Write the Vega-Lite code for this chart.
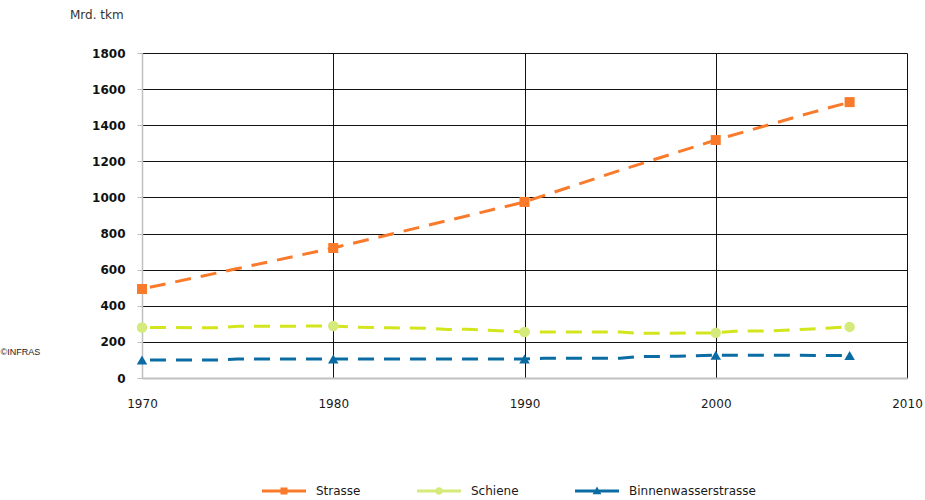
{
  "$schema": "https://vega.github.io/schema/vega-lite/v6.json",
  "width": 765,
  "height": 325,
  "autosize": {"type": "none"},
  "padding": {"left": 142, "top": 53, "right": 18, "bottom": 122},
  "background": "white",
  "config": {"view": {"stroke": null}},
  "title": {"text": "Mrd. tkm", "anchor": "start", "frame": "group", "dx": -72, "offset": 25, "font": "DejaVu Sans", "fontSize": 12, "fontWeight": "normal", "color": "#333333"},
  "data": {"values": [
    {"s": "Strasse", "year": 1970, "v": 493, "m": true},
    {"s": "Strasse", "year": 1975, "v": 606, "m": false},
    {"s": "Strasse", "year": 1980, "v": 720, "m": true},
    {"s": "Strasse", "year": 1985, "v": 847, "m": false},
    {"s": "Strasse", "year": 1990, "v": 975, "m": true},
    {"s": "Strasse", "year": 1995, "v": 1150, "m": false},
    {"s": "Strasse", "year": 2000, "v": 1318, "m": true},
    {"s": "Strasse", "year": 2005, "v": 1470, "m": false},
    {"s": "Strasse", "year": 2007, "v": 1528, "m": true},
    {"s": "Schiene", "year": 1970, "v": 280, "m": true},
    {"s": "Schiene", "year": 1974, "v": 278, "m": false},
    {"s": "Schiene", "year": 1975, "v": 286, "m": false},
    {"s": "Schiene", "year": 1980, "v": 288, "m": true},
    {"s": "Schiene", "year": 1981, "v": 282, "m": false},
    {"s": "Schiene", "year": 1983, "v": 278, "m": false},
    {"s": "Schiene", "year": 1985, "v": 275, "m": false},
    {"s": "Schiene", "year": 1986, "v": 269, "m": false},
    {"s": "Schiene", "year": 1987, "v": 270, "m": false},
    {"s": "Schiene", "year": 1990, "v": 255, "m": true},
    {"s": "Schiene", "year": 1995, "v": 255, "m": false},
    {"s": "Schiene", "year": 1996, "v": 247, "m": false},
    {"s": "Schiene", "year": 2000, "v": 250, "m": true},
    {"s": "Schiene", "year": 2001, "v": 259, "m": false},
    {"s": "Schiene", "year": 2003, "v": 261, "m": false},
    {"s": "Schiene", "year": 2004, "v": 266, "m": false},
    {"s": "Schiene", "year": 2005, "v": 272, "m": false},
    {"s": "Schiene", "year": 2007, "v": 283, "m": true},
    {"s": "Binnenwasserstrasse", "year": 1970, "v": 100, "m": true},
    {"s": "Binnenwasserstrasse", "year": 1974, "v": 100, "m": false},
    {"s": "Binnenwasserstrasse", "year": 1975, "v": 105, "m": false},
    {"s": "Binnenwasserstrasse", "year": 1980, "v": 105, "m": true},
    {"s": "Binnenwasserstrasse", "year": 1990, "v": 105, "m": true},
    {"s": "Binnenwasserstrasse", "year": 1991, "v": 109, "m": false},
    {"s": "Binnenwasserstrasse", "year": 1995, "v": 110, "m": false},
    {"s": "Binnenwasserstrasse", "year": 1996, "v": 119, "m": false},
    {"s": "Binnenwasserstrasse", "year": 1998, "v": 120, "m": false},
    {"s": "Binnenwasserstrasse", "year": 2000, "v": 126, "m": true},
    {"s": "Binnenwasserstrasse", "year": 2007, "v": 125, "m": true}
  ]},
  "encoding": {
    "x": {"field": "year", "type": "quantitative",
      "scale": {"domain": [1970, 2010], "nice": false, "zero": false},
      "axis": {"title": null, "values": [1970, 1980, 1990, 2000, 2010], "format": "d",
        "labelFont": "DejaVu Sans", "labelFontSize": 12, "labelColor": "#1a1a1a", "labelPadding": 20,
        "labelFlush": false, "labelOverlap": false,
        "ticks": false, "domainColor": "#c0c0c0", "domainWidth": 2,
        "grid": true, "gridWidth": 1, "gridOpacity": 1,
        "gridColor": {"condition": {"test": "datum.value == 1970", "value": "transparent"}, "value": "#111111"}}},
    "y": {"field": "v", "type": "quantitative",
      "scale": {"domain": [0, 1800], "nice": false},
      "axis": {"title": "©INFRAS", "titleAngle": 0, "titleAlign": "left", "titleBaseline": "middle",
        "titleX": -142, "titleY": 298, "titleFont": "Liberation Sans", "titleFontSize": 9, "titleFontWeight": "normal", "titleColor": "#222222",
        "values": [0, 200, 400, 600, 800, 1000, 1200, 1400, 1600, 1800], "format": "d",
        "labelFont": "DejaVu Sans", "labelFontSize": 12, "labelFontWeight": "bold", "labelColor": "#111111", "labelPadding": 12,
        "ticks": true, "tickColor": "#bfbfbf", "tickSize": 5, "tickWidth": 1,
        "domainColor": "#c0c0c0", "domainWidth": 1.5,
        "grid": true, "gridWidth": 1, "gridOpacity": 1,
        "gridColor": {"condition": {"test": "datum.value == 0", "value": "transparent"}, "value": "#111111"}}}
  },
  "layer": [
    {"transform": [{"filter": "datum.s == 'Strasse'"}],
     "mark": {"type": "line", "strokeWidth": 3, "strokeDash": [16, 10], "strokeDashOffset": 18, "color": "#F97A2A"}, "encoding": {}},
    {"transform": [{"filter": "datum.s == 'Schiene'"}],
     "mark": {"type": "line", "strokeWidth": 3, "strokeDash": [16, 10], "strokeDashOffset": 18, "color": "#D3E51C"}, "encoding": {}},
    {"transform": [{"filter": "datum.s == 'Binnenwasserstrasse'"}],
     "mark": {"type": "line", "strokeWidth": 3, "strokeDash": [16, 10], "strokeDashOffset": 18, "color": "#0A6CA3"}, "encoding": {}},
    {"transform": [{"filter": "datum.m && datum.s == 'Strasse'"}],
     "mark": {"type": "point", "shape": "square", "filled": true, "size": 100, "opacity": 1, "color": "#F97A2A"}},
    {"transform": [{"filter": "datum.m && datum.s == 'Schiene'"}],
     "mark": {"type": "point", "shape": "circle", "filled": true, "size": 110, "opacity": 1, "color": "#D4EA7A"}},
    {"transform": [{"filter": "datum.m && datum.s == 'Binnenwasserstrasse'"}],
     "mark": {"type": "point", "shape": "triangle-up", "filled": true, "size": 110, "opacity": 1, "color": "#0A6CA3"}},
    {"transform": [{"filter": "datum.m"}],
     "mark": {"type": "point", "filled": true, "size": 0},
     "encoding": {
       "color": {"field": "s", "type": "nominal",
         "scale": {"domain": ["Strasse", "Schiene", "Binnenwasserstrasse"], "range": ["#F97A2A", "#D4EA7A", "#0A6CA3"]},
         "legend": {"title": null, "orient": "none", "legendX": 120, "legendY": 416, "direction": "horizontal",
           "symbolSize": 1936, "symbolStrokeWidth": 0, "symbolOpacity": 1, "labelFont": "DejaVu Sans", "labelFontSize": 12, "labelColor": "#1a1a1a",
           "labelOffset": 10, "columnPadding": 56,
           "encode": {"symbols": {"update": {"opacity": {"value": 1}, "size": {"value": 1936}}}}}},
       "shape": {"field": "s", "type": "nominal",
         "scale": {"domain": ["Strasse", "Schiene", "Binnenwasserstrasse"],
           "range": ["M-1,-0.068H1V0.068H-1Z M-0.16,-0.16H0.16V0.16H-0.16Z",
                     "M-1,-0.068H1V0.068H-1Z M-0.17,0A0.17,0.17 0 1,1 0.17,0A0.17,0.17 0 1,1 -0.17,0Z",
                     "M-1,-0.068H1V0.068H-1Z M0,-0.2L0.2,0.15L-0.2,0.15Z"]},
         "legend": {"title": null, "orient": "none", "legendX": 120, "legendY": 416, "direction": "horizontal",
           "symbolSize": 1936, "symbolStrokeWidth": 0, "symbolOpacity": 1, "labelFont": "DejaVu Sans", "labelFontSize": 12, "labelColor": "#1a1a1a",
           "labelOffset": 10, "columnPadding": 56,
           "encode": {"symbols": {"update": {"opacity": {"value": 1}, "size": {"value": 1936}}}}}}
     }}
  ]
}
